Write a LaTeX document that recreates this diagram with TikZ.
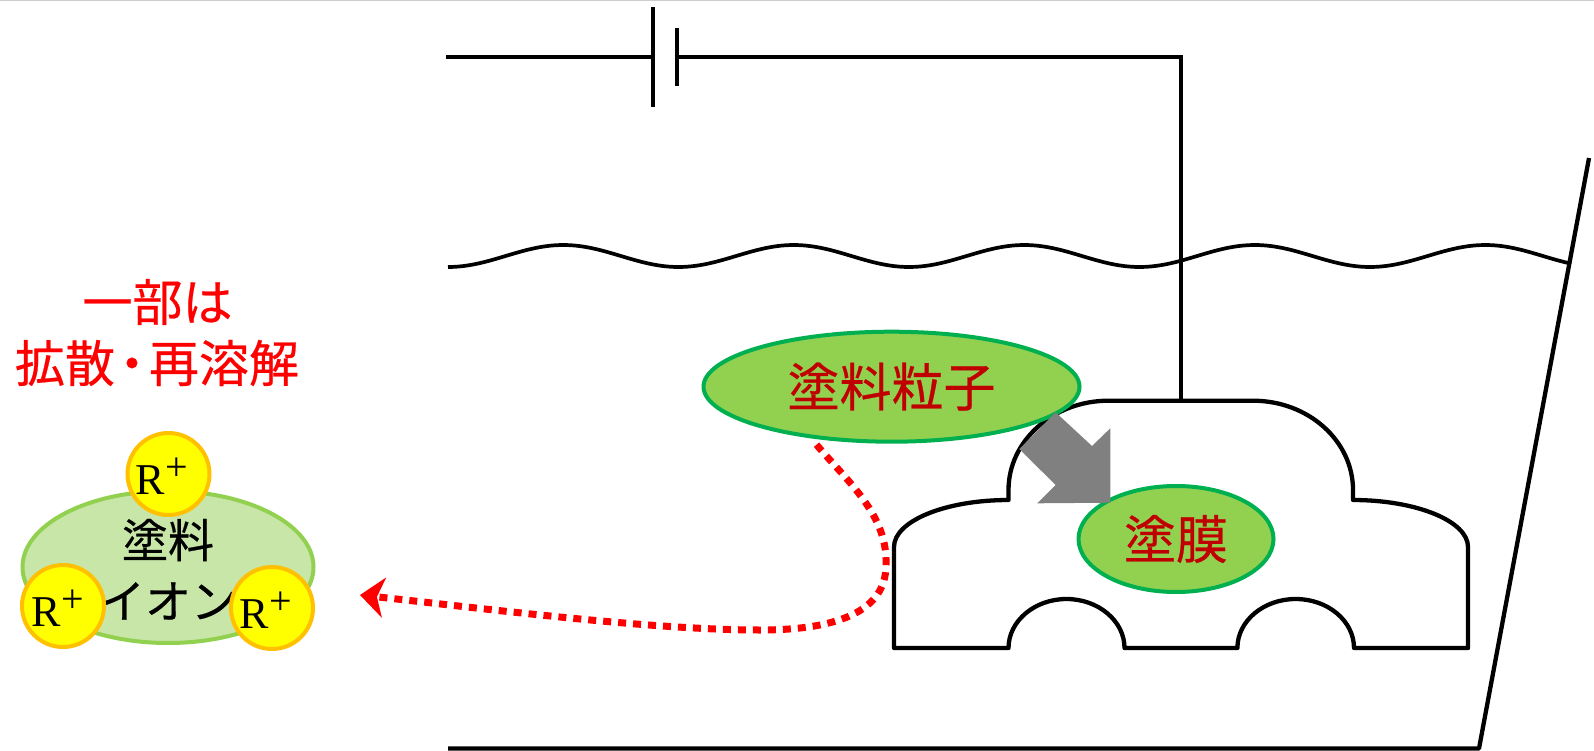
\documentclass[tikz,border=0pt]{standalone}
\usepackage{fontspec}
\newfontfamily\jpfont[FakeBold=0.5]{Noto Sans CJK JP}
\newfontfamily\rfont{Liberation Serif}
\usetikzlibrary{shapes.geometric,arrows.meta,calc}

\definecolor{leafgreen}{HTML}{92D050}
\definecolor{rimgreen}{HTML}{00B050}
\definecolor{paleleaf}{HTML}{C8E6A8}
\definecolor{darkred}{HTML}{C00000}
\definecolor{ionyellow}{HTML}{FFFF00}
\definecolor{ionrim}{HTML}{FFC000}
\definecolor{arrowgray}{HTML}{808080}

% R with a raised plus sign
\newcommand\ionR{{\rfont\fontsize{44}{44}\selectfont R\kern1pt\raisebox{14pt}{\fontsize{40}{40}\selectfont +}}}

\begin{document}
\begin{tikzpicture}[x=1pt,y=-1pt,
  wire/.style={line width=3.5pt, line cap=rect},
  plate/.style={line width=4pt},
  outline/.style={draw=black, line width=4.3pt, line join=round},
  blob/.style={ellipse, draw=rimgreen, fill=leafgreen, line width=4pt, inner sep=0pt,
    font=\jpfont\fontsize{52}{60}\selectfont, text=darkred},
  ionbody/.style={ellipse, draw=leafgreen, fill=paleleaf, line width=4pt, inner sep=0pt},
  iontext/.style={font=\jpfont\fontsize{46}{50}\selectfont, text=black, inner sep=0pt},
  ion/.style={circle, draw=ionrim, fill=ionyellow, line width=4pt, minimum size=82pt, inner sep=0pt},
  ionmark/.style={inner sep=0pt},
  redlabel/.style={font=\jpfont\fontsize{50}{60}\selectfont, text=red, inner sep=0pt},
  dissolvepath/.style={draw=red, line width=7pt, dash pattern=on 8pt off 7pt,
    -{Stealth[length=24pt, width=40pt, inset=7pt]}},
]
\useasboundingbox (0,0) rectangle (1594,751);

% frame edge
\draw[gray!40, line width=1.5pt] (0,0.75) -- (1594,0.75);

% power supply circuit
\coordinate (wireL) at (448,57);
\coordinate (plateL) at (653,57);
\coordinate (plateS) at (677,57);
\coordinate (corner) at (1181,57);
\coordinate (cartop) at (1181,400.7);
\draw[wire] (wireL) -- (plateL);
\draw[wire] (plateS) -- (corner) -- (cartop);
\draw[plate] (653,7) -- (653,107);
\draw[plate] (677,28) -- (677,86);

% bath liquid surface (period 230.5)
\draw[line width=3.7pt] plot[domain=448:1571, samples=220]
  (\x, {256 + 11*cos((\x-448)*1.56182)});

% tank
\draw[outline] (448,748.5) -- (1479,748.5) -- (1589,158);

% car body
\draw[outline] (894,648) -- (894,547)
  .. controls (894,521) and (945.3,500) .. (1008.5,500)
  -- (1008.5,490)
  .. controls (1008.5,440.7) and (1053.3,400.7) .. (1108.5,400.7)
  -- (1253,400.7)
  .. controls (1308.2,400.7) and (1353,440.7) .. (1353,490)
  -- (1353,500)
  .. controls (1416,500) and (1468,521) .. (1468,547)
  -- (1468,648) -- (1354,648)
  .. controls (1354,621) and (1327.9,599) .. (1295.7,599)
  .. controls (1263.5,599) and (1237.4,621) .. (1237.4,648)
  -- (1124.5,648)
  .. controls (1124.5,621) and (1098.3,599) .. (1066.5,599)
  .. controls (1034.7,599) and (1008.5,621) .. (1008.5,648)
  -- cycle;

% paint particle and deposited film
\node[blob, minimum width=376pt, minimum height=110pt] (particle) at (891.5,386.7) {塗料粒子};
\node[blob, minimum width=195pt, minimum height=106pt] (film) at (1176,539) {塗膜};

% deposition arrow
\fill[arrowgray] (1055.6,412.3) -- (1092,446) -- (1110.3,428.3) -- (1110.3,502.7)
  -- (1037.2,503.3) -- (1055.6,485) -- (1019.3,449) -- cycle;

% partial redissolution path
\coordinate (dissolve) at (360,595);
\draw[dissolvepath] ($(particle.center)+(-75,58)$)
  .. controls (848,482) and (888,515) .. (886,565)
  .. controls (886,610) and (840,630) .. (760,630)
  .. controls (650,630) and (480,608) .. (dissolve);

% caption
\node[redlabel] (partly) at (157.5,302) {一部は};
\node[redlabel] (diffuse) at (157,363) {拡散\kern-8pt・\kern-8pt再溶解};

% paint ion with counter ions
\node[ionbody, minimum width=291pt, minimum height=152pt] (ionblob) at (168,567) {};
\node[iontext] (ionname1) at (168,540) {塗料};
\node[iontext] (ionname2) at (168,601) {イオン};
\node[ion] (rtop) at (168.5,474) {};
\node[ion] (rleft) at (63,606) {};
\node[ion] (rright) at (272,608) {};
\node[ionmark] (rtoptext) at ($(rtop.center)+(-7,2)$) {\ionR};
\node[ionmark] (rlefttext) at ($(rleft.center)+(-5,2)$) {\ionR};
\node[ionmark] (rrighttext) at ($(rright.center)+(-6,2)$) {\ionR};
\end{tikzpicture}
\end{document}
